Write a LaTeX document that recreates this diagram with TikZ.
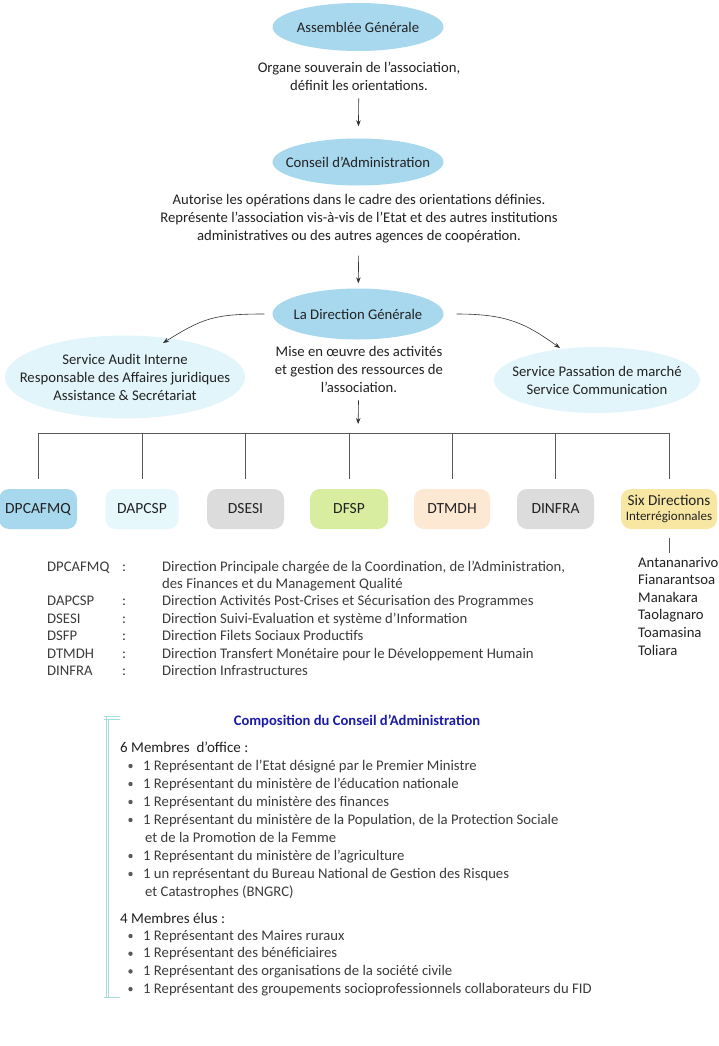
\documentclass[tikz,border=0pt]{standalone}
\usepackage{fontspec}
\setmainfont{Carlito}
\usetikzlibrary{shapes.geometric,arrows.meta}
\definecolor{cblue}{HTML}{A8D8EE}
\definecolor{cpale}{HTML}{E2F5FB}
\definecolor{cpale2}{HTML}{E6F8FC}
\definecolor{cgray}{HTML}{DCDCDC}
\definecolor{cgreen}{HTML}{D8EDA0}
\definecolor{cpeach}{HTML}{FCE8D3}
\definecolor{cyellow}{HTML}{F7E7A3}
\definecolor{ctxt}{HTML}{222222}
\definecolor{cgtxt}{HTML}{3C3C3C}
\definecolor{ctitle}{HTML}{1B1BA8}
\definecolor{cline}{HTML}{A8DCDC}
\begin{document}
\begin{tikzpicture}[x=1pt,y=-1pt,
  every node/.style={text=ctxt, inner sep=0pt},
  main/.style={font=\fontsize{14.7}{18}\selectfont},
  ell/.style={ellipse, fill=cblue, minimum width=171pt, minimum height=48pt},
  paleell/.style={ellipse, fill=cpale},
  desc/.style={main, align=center},
  dbox/.style={rounded corners=10pt, minimum height=40pt, font=\fontsize{15.5}{18}\selectfont},
  arr/.style={-{Stealth[length=6pt,width=4.5pt]}, line width=0.6pt, draw=black!80},
  tree/.style={line width=0.8pt, draw=black!65},
  small/.style={font=\fontsize{14.7}{17}\selectfont, text=cgtxt, anchor=base west},
  comp/.style={font=\fontsize{14.7}{17}\selectfont, text=cgtxt, anchor=base west},
  bul/.style={circle, fill=black!65, minimum size=4.4pt},
]
\useasboundingbox[fill=white] (0,0) rectangle (718,1046);

% top chain
\node[ell] (AG) at (358,27) {};
\node[main] (AGt) at (AG.center) {Assemblée Générale};
\node[desc] (t1) at (359,76) {Organe souverain de l’association,\\définit les orientations.};
\node[ell, minimum height=47pt] (CA) at (358,162) {};
\node[main] (CAt) at (CA.center) {Conseil d’Administration};
\node[desc] (t2) at (359,219) {Autorise les opérations dans le cadre des orientations définies.\\Représente l’association vis-à-vis de l'Etat et des autres institutions\\administratives ou des autres agences de coopération.};
\node[ell, minimum height=51pt] (DG) at (358,314) {};
\node[main] (DGt) at (DG.center) {La Direction Générale};
\node[desc] (t3) at (359,369) {Mise en œuvre des activités\\et gestion des ressources de\\l’association.};

\draw[arr, shorten <=8pt, shorten >=12pt] (t1) -- (CA);
\draw[arr, shorten <=12pt, shorten >=5pt] (t2) -- (DG);

% side services
\node[paleell, minimum width=240pt, minimum height=83pt] (audit) at (125,377) {};
\node[desc] (auditt) at (audit.center) {Service Audit Interne\\Responsable des Affaires juridiques\\Assistance \& Secrétariat};
\node[paleell, minimum width=206pt, minimum height=66pt] (pass) at (597,380) {};
\node[desc] (passt) at (pass.center) {Service Passation de marché\\Service Communication};

\coordinate (aL) at (163,343);
\coordinate (aR) at (560,348);
\draw[arr] ([xshift=-8pt]DG.west) .. controls +(-50,0) and +(40,-25) .. (aL);
\draw[arr] ([xshift=13pt]DG.east) .. controls +(50,0) and +(-35,-25) .. (aR);

% tree
\coordinate (busc) at (358,433);
\coordinate (busL) at (39,433);
\coordinate (busR) at (669,433);
\draw[arr, shorten <=8pt, shorten >=9pt] (t3) -- (busc);
\draw[tree] (busL) -- (busR);

\node[dbox, fill=cblue, minimum width=78pt] (b1) at (38,509) {DPCAFMQ};
\node[dbox, fill=cpale2, minimum width=73pt] (b2) at (142,509) {DAPCSP};
\node[dbox, fill=cgray, minimum width=77pt] (b3) at (245.5,509) {DSESI};
\node[dbox, fill=cgreen, minimum width=78pt] (b4) at (349,509) {DFSP};
\node[dbox, fill=cpeach, minimum width=76pt] (b5) at (452,509) {DTMDH};
\node[dbox, fill=cgray, minimum width=77pt] (b6) at (555.5,509) {DINFRA};
\node[dbox, fill=cyellow, minimum width=96pt, align=center, font=\fontsize{15.2}{18}\selectfont] (b7) at (669,509)
  {Six Directions\\[-3pt]{\fontsize{13}{14}\selectfont Interrégionnales}};

\foreach \b in {b1,b2,b3,b4,b5,b6,b7}{
  \draw[tree, shorten >=10pt] (\b.north |- busc) -- (\b.north);
}

% cities
\coordinate (cit) at (669,553);
\draw[tree, shorten <=9pt] (b7.south) -- (cit);
\foreach \c [count=\i from 0] in {Antananarivo,Fianarantsoa,Manakara,Taolagnaro,Toamasina,Toliara}{
  \node[small, text=ctxt] (city\i) at (638,567+17.6*\i) {\c};
}

% abbreviations
\foreach \a/\d [count=\i from 0] in {
  DPCAFMQ/{Direction Principale chargée de la Coordination, de l'Administration,},
  /{des Finances et du Management Qualité},
  DAPCSP/{Direction Activités Post-Crises et Sécurisation des Programmes},
  DSESI/{Direction Suivi-Evaluation et système d'Information},
  DSFP/{Direction Filets Sociaux Productifs},
  DTMDH/{Direction Transfert Monétaire pour le Développement Humain},
  DINFRA/{Direction Infrastructures}}{
  \node[small] (ab\i) at (47,571+17.4*\i) {\a};
  \node[small] (de\i) at (162,571+17.4*\i) {\d};
}
\foreach \i in {0,2,3,4,5,6}{
  \node[small] (co\i) at (122,571+17.4*\i) {:};
}

% composition
\draw[cline, line width=0.6pt] (106,716) -- (106,998) (108.5,719) -- (108.5,998);
\draw[cline, line width=0.6pt] (104,716) -- (120,716) (104,719) -- (120,719) (104,997) -- (120,997);
\node[font=\bfseries\fontsize{14.6}{17}\selectfont, text=ctitle, anchor=base] (title) at (357,725) {Composition du Conseil d’Administration};
\node[comp, text=ctxt, font=\fontsize{15}{17}\selectfont] (m6) at (120,752) {6 Membres\ \ d’office :};
\foreach \t [count=\i from 0] in {
  {1 Représentant de l’Etat désigné par le Premier Ministre},
  {1 Représentant du ministère de l’éducation nationale},
  {1 Représentant du ministère des finances},
  {1 Représentant du ministère de la Population, de la Protection Sociale}}{
  \node[comp] (p\i) at (143,770+18*\i) {\t};
  \node[bul] (pb\i) at (130.5,766+18*\i) {};
}
\node[comp] (p4c) at (145,842) {et de la Promotion de la Femme};
\node[comp] (p5) at (143,860) {1 Représentant du ministère de l’agriculture};
\node[bul] (pb5) at (130.5,856) {};
\node[comp] (p6) at (143,878) {1 un représentant du Bureau National de Gestion des Risques};
\node[bul] (pb6) at (130.5,874) {};
\node[comp] (p6c) at (145,896) {et Catastrophes (BNGRC)};

\node[comp, text=ctxt, font=\fontsize{15}{17}\selectfont] (m4) at (120,923) {4 Membres élus :};
\foreach \t [count=\i from 0] in {
  {1 Représentant des Maires ruraux},
  {1 Représentant des bénéficiaires},
  {1 Représentant des organisations de la société civile},
  {1 Représentant des groupements socioprofessionnels collaborateurs du FID}}{
  \node[comp] (q\i) at (143,940+17.7*\i) {\t};
  \node[bul] (qb\i) at (130.5,936+17.7*\i) {};
}
\end{tikzpicture}
\end{document}
